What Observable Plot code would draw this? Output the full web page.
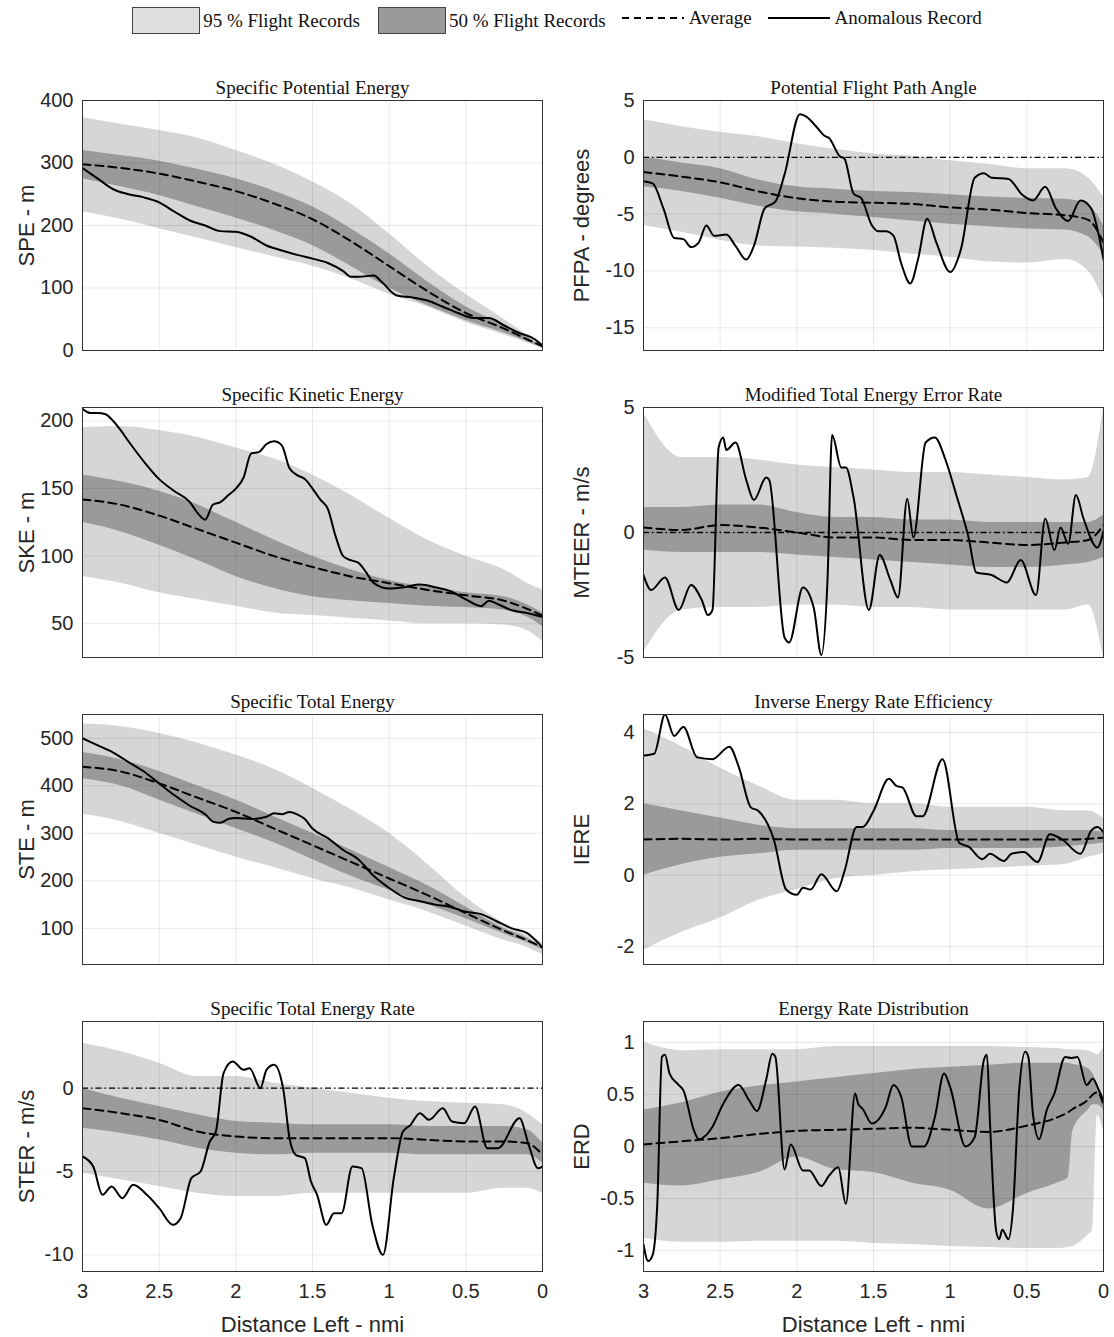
<!DOCTYPE html>
<html>
<head>
<meta charset="utf-8">
<script src="https://cdn.jsdelivr.net/npm/d3@7"></script>
<script src="https://cdn.jsdelivr.net/npm/@observablehq/plot@0.6"></script>
<style>
  body { margin:0; background:#fff; }
  #wrap { width:1114px; }
  #legend { height:70px; display:flex; justify-content:center; align-items:flex-start; padding-top:7px; box-sizing:border-box;
    font-family:"Liberation Serif", serif; font-size:19px; color:#111; }
  .item { display:flex; align-items:center; margin:0 4px; }
  .box { width:66px; height:25px; border:1px solid #444; margin-right:3px; }
  .item svg { margin-right:3px; }
  #grid { display:grid; grid-template-columns:557px 557px; }
</style>
</head>
<body>
<div id="wrap">
  <div id="legend">
    <div class="item"><div class="box" style="background:#e0e0e0"></div>95 % Flight Records</div>
    <div class="item" style="margin-left:14px"><div class="box" style="background:#9a9a9a"></div>50 % Flight Records</div>
    <div class="item" style="margin-left:10px"><svg width="66" height="20"><line x1="2" x2="64" y1="10" y2="10" stroke="#000" stroke-width="2" stroke-dasharray="7,5"/></svg>Average</div>
    <div class="item" style="margin-left:10px"><svg width="66" height="20"><line x1="2" x2="64" y1="10" y2="10" stroke="#000" stroke-width="2"/></svg>Anomalous Record</div>
  </div>
  <div id="grid"></div>
</div>
<script>
// distance grid for the percentile bands
const xBand = [3, 2.75, 2.5, 2.25, 2, 1.75, 1.5, 1.25, 1, 0.75, 0.5, 0.25, 0.1, 0];
const xBandERD = [3, 2.75, 2.5, 2.25, 2, 1.75, 1.5, 1.25, 1, 0.75, 0.5, 0.3, 0.23, 0.2, 0.1, 0.07, 0.04, 0];
const xTicks = [3, 2.5, 2, 1.5, 1, 0.5, 0];

// SPE
const speHi95 = [373, 362, 352, 340, 320, 298, 270, 235, 187, 135, 90, 50, 25, 10];
const speLo95 = [222, 210, 195, 180, 165, 150, 135, 115, 90, 70, 45, 25, 12, 3];
const speHi50 = [320, 312, 303, 290, 275, 255, 230, 195, 155, 110, 70, 40, 20, 6];
const speLo50 = [275, 262, 248, 230, 212, 192, 168, 135, 100, 72, 48, 28, 14, 4];
const speAvg  = [298, 292, 283, 270, 255, 235, 210, 175, 135, 95, 60, 35, 18, 7];
const speAnX = [3,2.9,2.8,2.7,2.6,2.5,2.4,2.3,2.2,2.1,2,1.9,1.8,1.7,1.6,1.5,1.4,1.3,1.25,1.2,1.1,1.05,0.95,0.85,0.75,0.65,0.55,0.45,0.35,0.25,0.15,0.05,0];
const speAnY = [292,275,258,250,245,237,222,208,200,191,190,182,168,160,153,147,140,127,118,118,120,110,88,85,80,70,60,52,52,40,28,18,8];

// SKE
const skeHi95 = [195, 196, 193, 188, 180, 172, 160, 145, 128, 112, 100, 90, 80, 75];
const skeLo95 = [85, 80, 73, 68, 63, 58, 56, 54, 52, 50, 50, 49, 45, 37];
const skeHi50 = [160, 155, 148, 138, 125, 112, 100, 90, 82, 77, 73, 70, 64, 58];
const skeLo50 = [125, 118, 108, 97, 85, 76, 70, 67, 65, 63, 62, 60, 55, 48];
const skeAvg  = [142, 138, 130, 120, 110, 100, 92, 85, 80, 75, 71, 67, 61, 56];
const skeAnX = [3,2.95,2.9,2.85,2.8,2.75,2.7,2.6,2.5,2.4,2.3,2.25,2.2,2.15,2.1,2.05,2,1.95,1.9,1.85,1.8,1.75,1.7,1.65,1.6,1.55,1.5,1.45,1.4,1.35,1.3,1.25,1.2,1.15,1.1,1,0.9,0.8,0.7,0.6,0.5,0.4,0.35,0.3,0.2,0.1,0];
const skeAnY = [209,206,206,205,200,193,185,170,157,148,140,132,127,138,140,145,150,158,176,177,183,185,182,165,160,157,150,142,135,115,100,97,95,88,80,76,77,79,77,74,68,63,67,65,60,58,55];

// STE
const steHi95 = [530, 525, 510, 490, 465, 435, 395, 350, 300, 235, 165, 110, 85, 70];
const steLo95 = [340, 325, 300, 275, 250, 228, 205, 185, 160, 135, 105, 75, 60, 45];
const steHi50 = [470, 455, 430, 400, 370, 335, 300, 265, 228, 190, 145, 100, 80, 60];
const steLo50 = [415, 400, 370, 340, 310, 280, 245, 210, 180, 150, 120, 88, 70, 55];
const steAvg  = [440, 430, 405, 375, 345, 310, 275, 240, 205, 170, 132, 95, 75, 60];
const steAnX = [3,2.9,2.8,2.7,2.6,2.5,2.4,2.3,2.2,2.15,2.1,2.05,2,1.9,1.8,1.75,1.7,1.65,1.6,1.55,1.5,1.4,1.3,1.2,1.1,1,0.9,0.8,0.7,0.6,0.5,0.4,0.3,0.2,0.1,0];
const steAnY = [500,485,470,450,430,405,380,358,340,325,322,330,332,330,335,342,340,345,340,330,310,290,265,245,210,185,165,157,150,145,135,130,115,100,90,60];

// STER
const sterHi95 = [2.7, 2.2, 1.5, 0.7, 0.7, 0.3, 0, -0.3, -0.6, -0.8, -0.9, -1.0, -1.5, -2.2];
const sterLo95 = [-5.1, -5.5, -5.9, -6.3, -6.5, -6.5, -6.3, -6.3, -6.3, -6.3, -6.3, -6.0, -6.0, -6.3];
const sterHi50 = [0, -0.6, -1.1, -1.6, -2.0, -2.1, -2.2, -2.2, -2.2, -2.3, -2.3, -2.3, -2.5, -3.3];
const sterLo50 = [-2.4, -2.7, -3.1, -3.6, -3.9, -4.0, -3.9, -3.9, -3.9, -4.0, -4.0, -4.0, -4.0, -4.5];
const sterAvg  = [-1.2, -1.5, -1.9, -2.6, -2.9, -3.0, -3.0, -3.0, -3.0, -3.1, -3.2, -3.2, -3.3, -4.0];
const sterAnX = [3,2.93,2.87,2.81,2.74,2.67,2.58,2.5,2.41,2.36,2.29,2.23,2.17,2.13,2.08,2.02,1.95,1.91,1.84,1.8,1.75,1.69,1.65,1.61,1.55,1.51,1.47,1.41,1.36,1.31,1.24,1.18,1.11,1.04,0.97,0.91,0.86,0.8,0.74,0.65,0.59,0.51,0.44,0.36,0.29,0.15,0.09,0.03,0];
const sterAnY = [-4.1,-4.7,-6.4,-5.9,-6.6,-5.8,-6.4,-7.2,-8.2,-7.8,-5.4,-5.0,-3.2,-2.6,0.9,1.6,1.1,1.2,0,1.1,1.4,-0.1,-3.0,-4.0,-4.2,-5.6,-6.4,-8.2,-7.5,-7.5,-4.7,-4.8,-8.2,-10,-5.4,-2.6,-2.2,-1.5,-1.9,-1.2,-2.0,-2.1,-1.1,-3.6,-3.6,-1.8,-3.4,-4.8,-4.7];

// PFPA
const pfpaHi95 = [3.3, 2.7, 2.2, 1.8, 1.2, 0.7, 0.3, 0.1, -0.3, -0.6, -1.0, -1.0, -1.8, -3.5];
const pfpaLo95 = [-6, -6.6, -7.3, -7.8, -7.9, -8.0, -8.2, -8.5, -8.8, -9.2, -9.3, -9.0, -10.0, -12.5];
const pfpaHi50 = [0, -0.5, -1.0, -2.0, -2.6, -2.8, -3.0, -3.1, -3.3, -3.5, -3.6, -3.7, -4.2, -6.0];
const pfpaLo50 = [-2.6, -3.0, -3.6, -4.3, -4.8, -5.0, -5.3, -5.6, -5.9, -6.1, -6.3, -6.4, -7.0, -8.5];
const pfpaAvg  = [-1.3, -1.7, -2.2, -3.0, -3.6, -3.9, -4.0, -4.1, -4.4, -4.6, -4.9, -5.1, -5.5, -7.5];
const pfpaAnX = [3,2.94,2.87,2.8,2.74,2.69,2.64,2.59,2.54,2.46,2.4,2.33,2.28,2.21,2.14,2.08,1.98,1.93,1.88,1.82,1.79,1.72,1.69,1.63,1.58,1.51,1.47,1.42,1.37,1.32,1.26,1.21,1.15,1.09,1.0,0.93,0.84,0.78,0.73,0.62,0.53,0.46,0.38,0.31,0.23,0.15,0.08,0.03,0];
const pfpaAnY = [-2.1,-2.3,-4.5,-7.1,-7.2,-7.9,-7.5,-6.0,-6.9,-6.8,-7.8,-9.0,-7.8,-4.5,-3.9,-1.5,3.8,3.5,2.8,1.9,1.7,0.1,-0.1,-3.2,-3.6,-6.0,-6.5,-6.5,-6.9,-9.3,-11.1,-9.0,-5.4,-7.5,-10.1,-8.1,-1.8,-1.4,-1.8,-1.9,-3.3,-3.8,-2.6,-4.5,-5.6,-3.8,-4.5,-6.9,-9.0];

// MTEER
const mtHi95 = [4.8, 3.0, 3.0, 2.9, 2.7, 2.6, 2.5, 2.4, 2.4, 2.3, 2.2, 2.1, 2.2, 5.0];
const mtLo95 = [-4.8, -3.1, -3.0, -3.0, -2.9, -2.9, -3.0, -3.0, -3.1, -3.1, -3.1, -3.1, -2.9, -5.0];
const mtHi50 = [1.0, 1.0, 1.1, 1.1, 0.8, 0.6, 0.6, 0.5, 0.5, 0.4, 0.4, 0.4, 0.4, 0.7];
const mtLo50 = [-0.7, -0.8, -0.8, -0.8, -0.9, -1.0, -1.1, -1.2, -1.3, -1.4, -1.4, -1.3, -1.2, -1.0];
const mtAvg  = [0.2, 0.1, 0.3, 0.2, 0.0, -0.2, -0.2, -0.3, -0.3, -0.4, -0.5, -0.4, -0.3, 0.3];
const mtAnX = [3,2.95,2.86,2.77,2.69,2.62,2.58,2.55,2.51,2.48,2.46,2.4,2.33,2.28,2.2,2.18,2.08,2.05,1.96,1.89,1.84,1.8,1.77,1.71,1.68,1.63,1.53,1.46,1.39,1.34,1.28,1.24,1.16,1.1,1.03,0.96,0.88,0.83,0.73,0.63,0.54,0.44,0.38,0.32,0.28,0.23,0.18,0.13,0.04,0];
const mtAnY = [-1.7,-2.3,-1.8,-3.1,-2.1,-2.7,-3.3,-3.1,3.4,3.8,3.3,3.6,2.1,1.3,2.2,2.1,-4.2,-4.4,-2.2,-3.0,-4.9,-1.9,3.9,2.6,2.6,1.4,-3.1,-0.9,-1.9,-2.6,1.35,-0.2,3.6,3.8,2.9,1.5,-0.2,-1.6,-1.7,-2.0,-1.1,-2.5,0.55,-0.7,0.2,-0.45,1.5,0.55,-0.6,0.05];

// IERE
const iereHi95 = [4.1, 3.6, 3.0, 2.5, 2.1, 2.1, 2.0, 2.0, 1.9, 1.9, 1.9, 1.8, 1.8, 1.6];
const iereLo95 = [-2.1, -1.6, -1.2, -0.7, -0.4, -0.1, 0.0, 0.1, 0.15, 0.2, 0.25, 0.3, 0.5, 0.6];
const iereHi50 = [2.0, 1.8, 1.6, 1.4, 1.3, 1.3, 1.3, 1.3, 1.25, 1.25, 1.25, 1.25, 1.25, 1.2];
const iereLo50 = [0.0, 0.3, 0.5, 0.6, 0.7, 0.7, 0.7, 0.7, 0.75, 0.75, 0.75, 0.8, 0.85, 0.9];
const iereAvg  = [1.0, 1.02, 1.0, 1.02, 1.0, 1.0, 1.0, 1.0, 1.0, 1.0, 1.0, 1.0, 1.02, 1.05];
const iereAnX = [3,2.93,2.86,2.8,2.74,2.65,2.55,2.44,2.38,2.3,2.25,2.15,2.07,2.0,1.96,1.91,1.84,1.74,1.69,1.61,1.57,1.5,1.4,1.35,1.31,1.22,1.18,1.05,0.94,0.88,0.79,0.74,0.65,0.6,0.52,0.43,0.35,0.27,0.15,0.08,0.04,0];
const iereAnY = [3.35,3.4,4.5,3.9,4.15,3.3,3.25,3.6,3.05,1.9,1.8,1.0,-0.4,-0.55,-0.35,-0.4,0.03,-0.45,0.1,1.35,1.35,1.8,2.7,2.5,2.45,1.65,1.65,3.25,0.9,0.8,0.45,0.6,0.4,0.6,0.65,0.37,1.15,1.0,0.6,1.25,1.35,1.2];

// ERD
const erdHi95 = [1.0, 0.92, 0.93, 0.93, 0.93, 0.96, 0.96, 0.96, 0.96, 0.96, 0.95, 0.94, 0.93, 0.93, 0.92, 0.9, 0.88, 0.95];
const erdLo95 = [-0.88, -0.92, -0.92, -0.91, -0.91, -0.91, -0.93, -0.94, -0.96, -0.97, -0.98, -0.98, -0.97, -0.96, -0.85, -0.8, 0.3, 0.15];
const erdHi50 = [0.35, 0.42, 0.52, 0.58, 0.62, 0.66, 0.7, 0.74, 0.76, 0.78, 0.8, 0.8, 0.8, 0.79, 0.75, 0.7, 0.6, 0.4];
const erdLo50 = [-0.35, -0.38, -0.32, -0.25, -0.1, -0.22, -0.25, -0.35, -0.42, -0.6, -0.45, -0.35, -0.3, 0.15, 0.35, 0.4, 0.4, 0.35];
const erdAvg  = [0.02, 0.05, 0.08, 0.12, 0.15, 0.16, 0.17, 0.18, 0.16, 0.14, 0.2, 0.28, 0.33, 0.36, 0.45, 0.5, 0.52, 0.4];
const erdAnX = [3,2.97,2.94,2.91,2.88,2.86,2.83,2.77,2.74,2.67,2.64,2.55,2.48,2.38,2.31,2.26,2.2,2.16,2.14,2.08,2.04,1.96,1.92,1.84,1.79,1.73,1.68,1.62,1.6,1.57,1.51,1.42,1.37,1.32,1.25,1.17,1.1,1.04,1.0,0.9,0.84,0.78,0.76,0.74,0.7,0.68,0.66,0.62,0.59,0.55,0.51,0.49,0.46,0.42,0.37,0.32,0.25,0.21,0.17,0.11,0.07,0.03,0];
const erdAnY = [-0.94,-1.1,-1.04,-0.55,0.86,0.88,0.7,0.59,0.54,0.15,0.07,0.19,0.41,0.59,0.44,0.34,0.64,0.89,0.86,-0.22,0.02,-0.23,-0.23,-0.38,-0.28,-0.2,-0.55,0.51,0.41,0.36,0.22,0.38,0.59,0.48,0,0,0.28,0.7,0.57,0,0.09,0.83,0.88,0.22,-0.81,-0.89,-0.8,-0.89,-0.59,0.54,0.91,0.86,0.31,0.07,0.35,0.51,0.86,0.85,0.86,0.59,0.65,0.54,0.44];

const panels = [
  {title:"Specific Potential Energy", ylab:"SPE - m", dom:[0,400], ticks:[0,100,200,300,400], xs:xBand, hi95:speHi95, lo95:speLo95, hi50:speHi50, lo50:speLo50, avg:speAvg, ax:speAnX, ay:speAnY},
  {title:"Potential Flight Path Angle", ylab:"PFPA - degrees", dom:[-17,5], ticks:[-15,-10,-5,0,5], zero:true, xs:xBand, hi95:pfpaHi95, lo95:pfpaLo95, hi50:pfpaHi50, lo50:pfpaLo50, avg:pfpaAvg, ax:pfpaAnX, ay:pfpaAnY},
  {title:"Specific Kinetic Energy", ylab:"SKE - m", dom:[25,210], ticks:[50,100,150,200], xs:xBand, hi95:skeHi95, lo95:skeLo95, hi50:skeHi50, lo50:skeLo50, avg:skeAvg, ax:skeAnX, ay:skeAnY},
  {title:"Modified Total Energy Error Rate", ylab:"MTEER - m/s", dom:[-5,5], ticks:[-5,0,5], zero:true, xs:xBand, hi95:mtHi95, lo95:mtLo95, hi50:mtHi50, lo50:mtLo50, avg:mtAvg, ax:mtAnX, ay:mtAnY},
  {title:"Specific Total Energy", ylab:"STE - m", dom:[24,550], ticks:[100,200,300,400,500], xs:xBand, hi95:steHi95, lo95:steLo95, hi50:steHi50, lo50:steLo50, avg:steAvg, ax:steAnX, ay:steAnY},
  {title:"Inverse Energy Rate Efficiency", ylab:"IERE", dom:[-2.5,4.5], ticks:[-2,0,2,4], xs:xBand, hi95:iereHi95, lo95:iereLo95, hi50:iereHi50, lo50:iereLo50, avg:iereAvg, ax:iereAnX, ay:iereAnY},
  {title:"Specific Total Energy Rate", ylab:"STER - m/s", dom:[-11,4], ticks:[-10,-5,0], zero:true, xs:xBand, hi95:sterHi95, lo95:sterLo95, hi50:sterHi50, lo50:sterLo50, avg:sterAvg, ax:sterAnX, ay:sterAnY},
  {title:"Energy Rate Distribution", ylab:"ERD", dom:[-1.2,1.2], ticks:[-1,-0.5,0,0.5,1], xs:xBandERD, hi95:erdHi95, lo95:erdLo95, hi50:erdHi50, lo50:erdLo50, avg:erdAvg, ax:erdAnX, ay:erdAnY}
];

panels.forEach((p, i) => {
  const left = i % 2 === 0;
  const bottom = i >= 6;
  const band = p.xs.map((x, k) => ({x, hi95:p.hi95[k], lo95:p.lo95[k], hi50:p.hi50[k], lo50:p.lo50[k], avg:p.avg[k]}));
  const anom = p.ax.map((x, k) => ({x, y:p.ay[k]}));
  const marks = [
    Plot.areaY(band, {x:"x", y1:"lo95", y2:"hi95", fill:"#d6d6d6", curve:"monotone-x", clip:true}),
    Plot.areaY(band, {x:"x", y1:"lo50", y2:"hi50", fill:"#9a9a9a", curve:"monotone-x", clip:true}),
    Plot.gridX(xTicks, {stroke:"#000", strokeOpacity:0.09}),
    Plot.gridY(p.ticks, {stroke:"#000", strokeOpacity:0.09}),
  ];
  if (p.zero) marks.push(Plot.ruleY([0], {stroke:"#000", strokeWidth:1.3, strokeDasharray:"6,3,1.5,3"}));
  marks.push(
    Plot.lineY(band, {x:"x", y:"avg", stroke:"#000", strokeWidth:2, strokeDasharray:"8,5", curve:"monotone-x", clip:true}),
    Plot.lineY(anom, {x:"x", y:"y", stroke:"#000", strokeWidth:2, curve:"monotone-x", clip:true}),
    Plot.frame({stroke:"#333", strokeWidth:1}),
    Plot.text([p.title], {frameAnchor:"top", dy:-20, fontFamily:"Liberation Serif", fontSize:19, fill:"#111"})
  );
  const chart = Plot.plot({
    width:557,
    height: bottom ? 347 : 307,
    marginLeft: left ? 82 : 86,
    marginRight: left ? 15 : 11,
    marginTop:30,
    marginBottom: bottom ? 67 : 27,
    style:{fontFamily:"Liberation Sans, Arial, sans-serif", fontSize:"20px", color:"#262626", background:"#fff"},
    x:{domain:[3,0], ticks:xTicks, tickSize:0, tickPadding:12,
       tickFormat: bottom ? (d => String(d)) : () => "",
       label: bottom ? "Distance Left - nmi" : null, labelAnchor:"center", labelOffset:60, labelArrow:"none"},
    y:{domain:p.dom, ticks:p.ticks, tickSize:0, tickPadding:9, tickFormat:d => String(d), label:p.ylab, labelAnchor:"center",
       labelOffset: left ? 64 : 70, labelArrow:"none"},
    marks
  });
  d3.select(chart).selectAll("[aria-label='y-axis label'] text, [aria-label='x-axis label'] text").style("font-size", "22px");
  document.getElementById("grid").append(chart);
});
</script>
</body>
</html>
